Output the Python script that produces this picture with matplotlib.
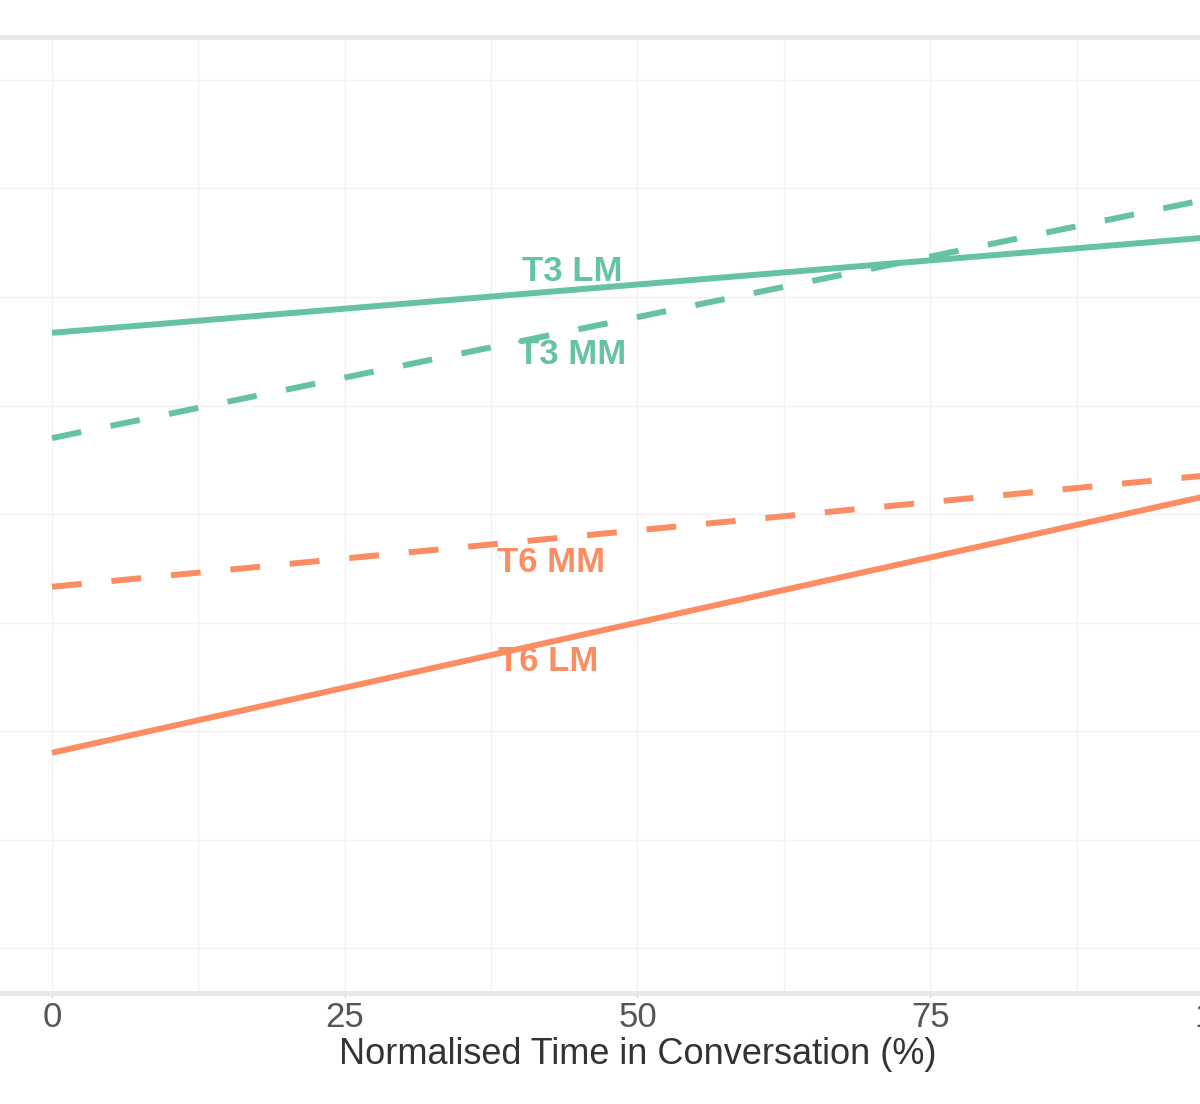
import numpy as np
import matplotlib.pyplot as plt
from matplotlib.ticker import MultipleLocator

plt.rcParams['font.family'] = ['Liberation Sans', 'DejaVu Sans']

# fitted lines: value at start (0 %) and end (100 %) of the conversation
time_pts = [0, 100]
t3_lm = [0.3835, 0.428]
t3_mm = [0.335, 0.4465]
t6_mm = [0.2665, 0.3185]
t6_lm = [0.190, 0.310]
x_ticks = [0, 25, 50, 75, 100]
x_tick_labels = ['0', '25', '50', '75', '100']

series = [
    ('T3 LM', t3_lm, '#66c2a5', '-', 13),
    ('T3 MM', t3_mm, '#66c2a5', '--', -17),
    ('T6 MM', t6_mm, '#fc8d62', '--', -17),
    ('T6 LM', t6_lm, '#fc8d62', '-', -14),
]
label_x = [44.4, 44.4, 42.6, 42.4]

fig = plt.figure(figsize=(12, 11.04), dpi=100)
ax = fig.add_axes([-0.00546, 0.1005, 1.0734, 0.866])

for (name, vals, col, ls, off), lx in zip(series, label_x):
    if ls == '--':
        ax.plot(time_pts, vals, color=col, lw=4.3, linestyle=(0, (5, 5)),
                solid_capstyle='butt', dash_capstyle='butt')
    else:
        ax.plot(time_pts, vals, color=col, lw=4.3, solid_capstyle='butt')
    ly = np.interp(lx, time_pts, vals)
    ax.annotate(name, (lx, ly), xytext=(0, off), textcoords='offset points',
                ha='center', va='center', color=col, fontsize=25,
                fontweight='bold')

ax.set_xlim(-5, 105)
ax.set_ylim(0.0793, 0.5198)
ax.set_xticks(x_ticks)
ax.set_xticklabels(x_tick_labels)
ax.xaxis.set_minor_locator(MultipleLocator(12.5))
ax.yaxis.set_major_locator(MultipleLocator(0.1))
ax.yaxis.set_minor_locator(MultipleLocator(0.05))
ax.grid(True, which='both', color='#f3f3f3', lw=1)
ax.set_axisbelow(True)

for side in ['left', 'right']:
    ax.spines[side].set_visible(False)
for side in ['top', 'bottom']:
    ax.spines[side].set_color('#e8e8e8')
    ax.spines[side].set_linewidth(3.5)

ax.tick_params(axis='y', which='both', left=False, labelleft=False)
ax.tick_params(axis='x', which='minor', bottom=False)
ax.tick_params(axis='x', which='major', colors='#bbbbbb', length=3,
               labelcolor='#555555', labelsize=25, pad=3)
ax.set_xlabel('Normalised Time in Conversation (%)', fontsize=26,
              color='#333333', labelpad=2)

fig.savefig('out.png', dpi=100)
